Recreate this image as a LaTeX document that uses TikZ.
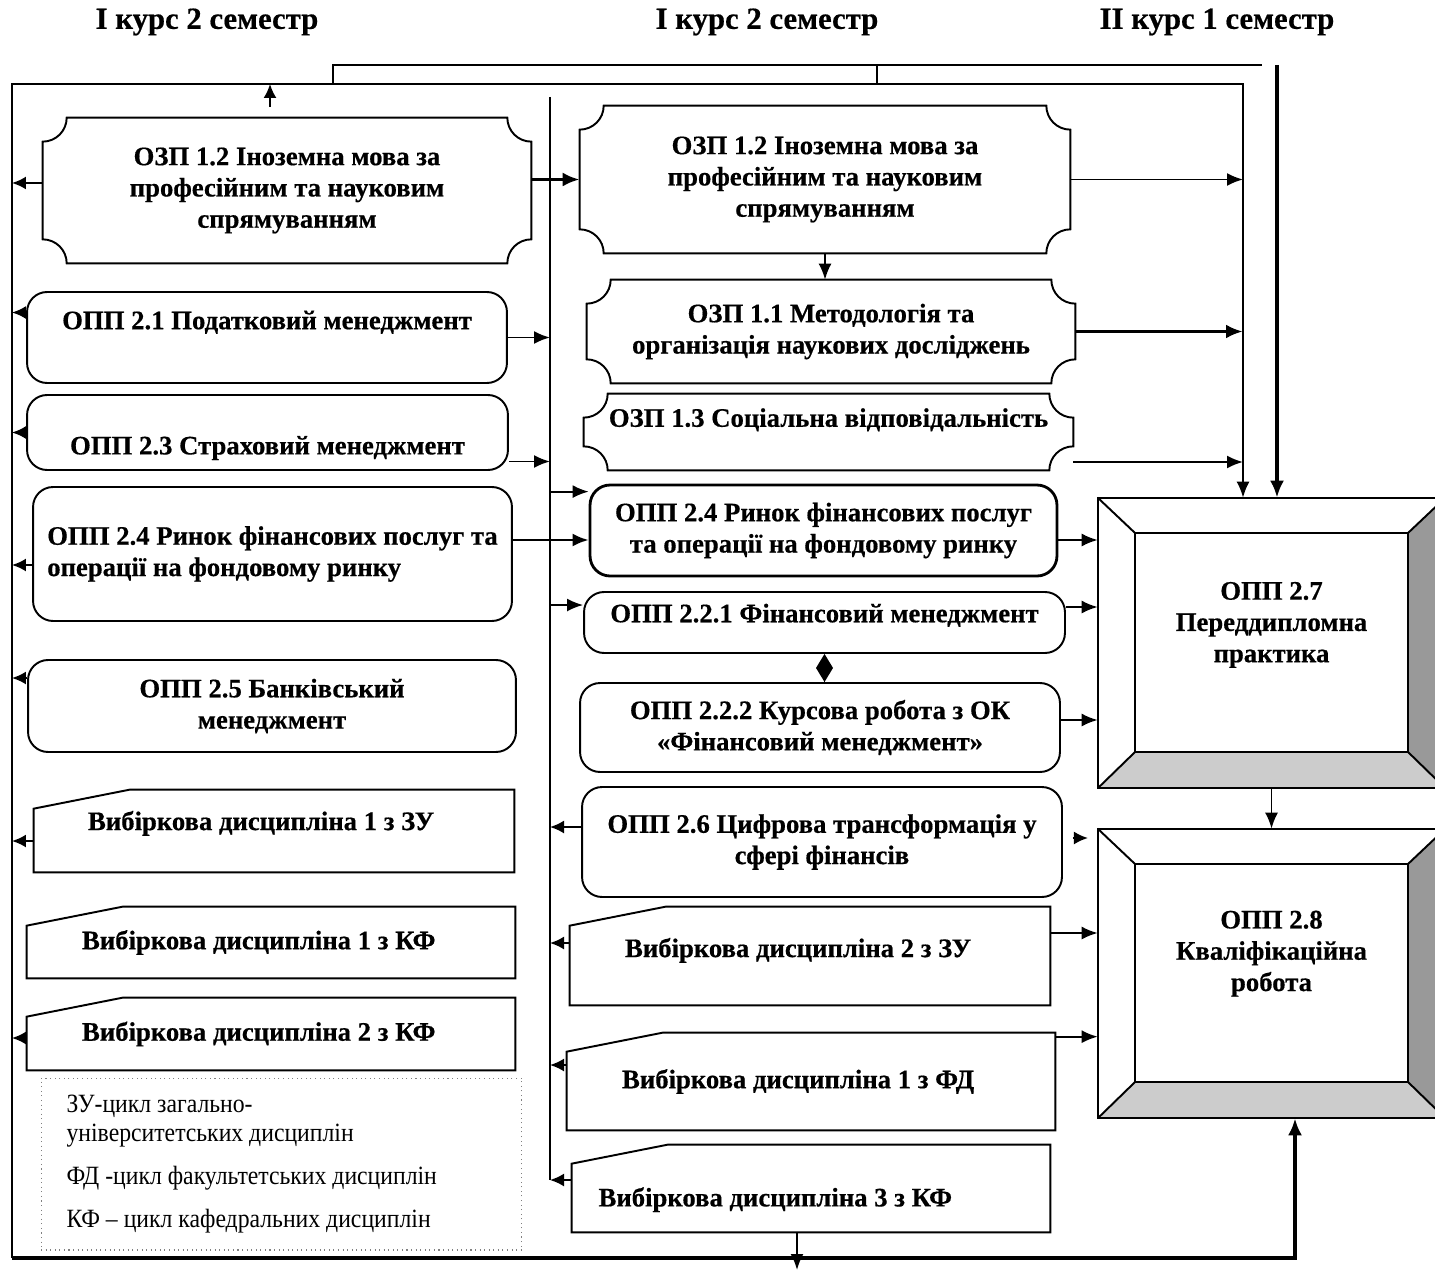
\documentclass[tikz,border=0pt]{standalone}
\usepackage{fontspec}
\setmainfont{Liberation Serif}[BoldFeatures={FakeBold=0.5}]
\newfontfamily\legendfont{Liberation Serif}[FakeStretch=0.9]
\usetikzlibrary{arrows.meta}

% outline of the plaque boxes (concave corners)
\newcommand\plaqueframe[1]{%
  \draw[boxline] ([xshift=0.48cm]#1.north west) -- ([xshift=-0.48cm]#1.north east)
    arc[start angle=180, end angle=270, radius=0.48cm] -- ([yshift=0.48cm]#1.south east)
    arc[start angle=90, end angle=180, radius=0.48cm] -- ([xshift=0.48cm]#1.south west)
    arc[start angle=0, end angle=90, radius=0.48cm] -- ([yshift=-0.48cm]#1.north west)
    arc[start angle=270, end angle=360, radius=0.48cm] -- cycle;}
% outline of the elective boxes (slanted top left corner)
\newcommand\electframe[1]{%
  \draw[boxline] ([yshift=-0.38cm]#1.north west) -- ([xshift=1.92cm]#1.north west)
    -- (#1.north east) -- (#1.south east) -- (#1.south west) -- cycle;}
% bevelled frame of the practice and thesis boxes
\newcommand\bevelframe[1]{%
  \fill[gray!40] (#1.south west) -- (#1.south east) -- ([shift={(-0.74cm,0.72cm)}]#1.south east)
    -- ([shift={(0.74cm,0.72cm)}]#1.south west) -- cycle;
  \fill[gray!80] (#1.north east) -- (#1.south east) -- ([shift={(-0.74cm,0.72cm)}]#1.south east)
    -- ([shift={(-0.74cm,-0.7cm)}]#1.north east) -- cycle;
  \draw[boxline] (#1.north west) rectangle (#1.south east);
  \draw[boxline] ([shift={(0.74cm,-0.7cm)}]#1.north west) rectangle ([shift={(-0.74cm,0.72cm)}]#1.south east);
  \draw[boxline] (#1.north west) -- ([shift={(0.74cm,-0.7cm)}]#1.north west);
  \draw[boxline] (#1.north east) -- ([shift={(-0.74cm,-0.7cm)}]#1.north east);
  \draw[boxline] (#1.south west) -- ([shift={(0.74cm,0.72cm)}]#1.south west);
  \draw[boxline] (#1.south east) -- ([shift={(-0.74cm,0.72cm)}]#1.south east);}

\begin{document}
\begin{tikzpicture}[x=0.02cm, y=0.02cm]
    % Basic styles
    \tikzset{
        boxtext/.style={rectangle, align=center, inner sep=0pt,
            font=\bfseries\fontsize{15.2}{17.8}\selectfont},
        roundbox/.style={boxtext, draw, line width=1.1pt, rounded corners=0.4cm},
        boxline/.style={line width=1.1pt},
        head/.style={font=\bfseries\fontsize{17.5}{21}\selectfont},
        conn/.style={line width=1.1pt},
        arr/.style={conn, -{Latex[length=0.32cm, width=0.26cm]}},
        tip/.style={conn, -{Latex[length=0.28cm, width=0.26cm]}},
        bigarr/.style={line width=2.2pt, -{Latex[length=0.34cm, width=0.28cm]}}
    }
    \useasboundingbox (0,0) rectangle (1435,-1273);
    \clip (0,0) rectangle (1435,-1273);

    % Semester headings
    \node[head] (semA) at (207,-22) {І курс 2 семестр};
    \node[head] (semB) at (767,-22) {І курс 2 семестр};
    \node[head] (semC) at (1217,-22) {ІІ курс 1 семестр};

    % Frame points
    \coordinate (ftl) at (12,-84);
    \coordinate (ftr) at (1243,-84);
    \coordinate (fbl) at (12,-1258);
    \coordinate (fbr) at (1295,-1258);
    \coordinate (utl) at (333,-65);
    \coordinate (umid) at (877,-65);
    \coordinate (utr) at (1262,-65);
    \coordinate (tk) at (1277,-65);
    \coordinate (mtop) at (550,-97);
    \coordinate (mbot) at (550,-1180);
    \coordinate (upstart) at (270,-107);
    \coordinate (downend) at (797,-1270);

    % Left column (first semester)
    \node[boxtext, minimum width=9.76cm, minimum height=2.9cm] (ozpL) at (287,-190.5)
        {ОЗП 1.2 Іноземна мова за\\професійним та науковим\\спрямуванням};
    \node[roundbox, minimum width=9.6cm, minimum height=1.82cm, text depth=0.7cm] (oppTax) at (267,-337.5)
        {ОПП 2.1 Податковий менеджмент};
    \node[roundbox, minimum width=9.62cm, minimum height=1.5cm, text height=0.99cm] (oppIns) at (267.5,-432.5)
        {ОПП 2.3 Страховий менеджмент};
    \node[roundbox, align=left, minimum width=9.58cm, minimum height=2.68cm] (oppMarketL) at (272.5,-554)
        {ОПП 2.4 Ринок фінансових послуг та\\операції на фондовому ринку};
    \node[roundbox, minimum width=9.76cm, minimum height=1.84cm] (oppBank) at (272,-706)
        {ОПП 2.5 Банківський\\менеджмент};
    \node[boxtext, align=flush left, text width=7.44cm, minimum width=9.6cm, minimum height=1.64cm, text depth=0.42cm] (electZuA) at (274,-831)
        {Вибіркова дисципліна 1 з ЗУ};
    \node[boxtext, align=flush left, text width=7.56cm, minimum width=9.76cm, minimum height=1.42cm] (electKfA) at (271,-942.5)
        {Вибіркова дисципліна 1 з КФ};
    \node[boxtext, align=flush left, text width=7.56cm, minimum width=9.76cm, minimum height=1.44cm] (electKfB) at (271,-1034)
        {Вибіркова дисципліна 2 з КФ};
    \node[draw=gray, dotted, line width=0.6pt, minimum width=9.62cm, minimum height=3.44cm,
          text width=8.6cm, align=flush left, inner sep=0pt, font=\legendfont\fontsize{15}{16.5}\selectfont] (legend) at (281.5,-1164)
        {ЗУ-цикл загально-\\університетських дисциплін\\[8pt]ФД -цикл факультетських дисциплін\\[8pt]КФ – цикл кафедральних дисциплін};

    % Middle column (second semester)
    \node[boxtext, minimum width=9.8cm, minimum height=2.94cm] (ozpLang) at (825,-179.5)
        {ОЗП 1.2 Іноземна мова за\\професійним та науковим\\спрямуванням};
    \node[boxtext, minimum width=9.76cm, minimum height=2.06cm] (ozpMethod) at (831,-331.5)
        {ОЗП 1.1 Методологія та\\організація наукових досліджень};
    \node[boxtext, minimum width=9.78cm, minimum height=1.52cm, text depth=0.58cm] (ozpSocial) at (828.5,-432)
        {ОЗП 1.3 Соціальна відповідальність};
    \node[roundbox, line width=1.6pt, minimum width=9.34cm, minimum height=1.82cm] (oppMarket) at (823.5,-530.5)
        {ОПП 2.4 Ринок фінансових послуг\\та операції на фондовому ринку};
    \node[roundbox, minimum width=9.62cm, minimum height=1.22cm, text depth=0.38cm] (oppFin) at (824.5,-622.5)
        {ОПП 2.2.1 Фінансовий менеджмент};
    \node[roundbox, minimum width=9.6cm, minimum height=1.78cm] (oppCourse) at (820,-727.5)
        {ОПП 2.2.2 Курсова робота з ОК\\«Фінансовий менеджмент»};
    \node[roundbox, minimum width=9.6cm, minimum height=2.2cm] (oppDigital) at (822,-842)
        {ОПП 2.6 Цифрова трансформація у\\сфері фінансів};
    \node[boxtext, align=flush left, text width=7.4cm, minimum width=9.6cm, minimum height=1.96cm, text depth=0.34cm] (electZuB) at (810,-956)
        {Вибіркова дисципліна 2 з ЗУ};
    \node[boxtext, align=flush left, text width=7.56cm, minimum width=9.76cm, minimum height=1.94cm] (electFd) at (811,-1081.5)
        {Вибіркова дисципліна 1 з ФД};
    \node[boxtext, align=flush left, text width=8.5cm, minimum width=9.56cm, minimum height=1.74cm, text height=0.83cm] (electKfC) at (811,-1188.5)
        {Вибіркова дисципліна 3 з КФ};

    % Right column (third semester)
    \node[boxtext, minimum width=6.94cm, minimum height=5.8cm] (oppPractice) at (1271.5,-643)
        {ОПП 2.7\\Переддипломна\\практика\\[6pt]\mbox{}};
    \node[boxtext, minimum width=6.94cm, minimum height=5.78cm] (oppThesis) at (1271.5,-973.5)
        {ОПП 2.8\\Кваліфікаційна\\робота\\[8pt]\mbox{}};

    % Box outlines
    \foreach \b in {ozpL, ozpLang, ozpMethod, ozpSocial} {\plaqueframe{\b}}
    \foreach \b in {electZuA, electKfA, electKfB, electZuB, electFd, electKfC} {\electframe{\b}}
    \bevelframe{oppPractice}
    \bevelframe{oppThesis}

    % Frame and upper lines
    \draw[arr] (fbl) -- (ftl) -- (ftr) -- (ftr |- oppPractice.north);
    \draw[conn] (utl |- ftl) -- (utl) -- (utr);
    \draw[conn] (umid) -- (umid |- ftl);
    \draw[bigarr] (tk) -- (tk |- oppPractice.north);
    \draw[bigarr] (fbl) -- (fbr) -- (fbr |- oppThesis.south);
    \draw[conn] (mtop) -- (mbot);
    \draw[tip] (upstart) -- (upstart |- ftl);

    % Left column to the frame
    \draw[tip] ([yshift=0.15cm]ozpL.west) -- ([yshift=0.15cm]ozpL.west -| ftl);
    \draw[tip] ([yshift=0.5cm]oppTax.west) -- ([yshift=0.5cm]oppTax.west -| ftl);
    \draw[tip] (oppIns.west) -- (oppIns.west -| ftl);
    \draw[tip] ([yshift=-0.22cm]oppMarketL.west) -- ([yshift=-0.22cm]oppMarketL.west -| ftl);
    \draw[tip] ([yshift=0.56cm]oppBank.west) -- ([yshift=0.56cm]oppBank.west -| ftl);
    \draw[tip] ([yshift=-0.2cm]electZuA.west) -- ([yshift=-0.2cm]electZuA.west -| ftl);
    \draw[tip] ([yshift=-0.08cm]electKfB.west) -- ([yshift=-0.08cm]electKfB.west -| ftl);

    % Left column to the middle
    \draw[bigarr] (ozpLang.west -| ozpL.east) -- (ozpLang.west);
    \draw[arr] (oppTax.east) -- (oppTax.east -| mtop);
    \draw[arr] ([yshift=-0.58cm]oppIns.east) -- ([yshift=-0.58cm]oppIns.east -| mtop);
    \draw[arr, line width=1.5pt] ([yshift=-0.19cm]oppMarket.west -| oppMarketL.east) -- ([yshift=-0.19cm]oppMarket.west);
    \draw[arr] ([yshift=-0.16cm]oppMarket.north west -| mtop) -- ([yshift=-0.16cm]oppMarket.north west);
    \draw[arr] ([yshift=0.35cm]oppFin.west -| mtop) -- ([yshift=0.35cm]oppFin.west);

    % Middle column back to the middle line
    \draw[tip] ([yshift=0.3cm]oppDigital.west) -- ([yshift=0.3cm]oppDigital.west -| mtop);
    \draw[tip] ([yshift=0.26cm]electZuB.west) -- ([yshift=0.26cm]electZuB.west -| mtop);
    \draw[tip] ([yshift=0.33cm]electFd.west) -- ([yshift=0.33cm]electFd.west -| mtop);
    \draw[tip] ([yshift=0.17cm]electKfC.west) -- (mbot);

    % Inside the middle column
    \draw[arr] (ozpLang.south) -- (ozpLang.south |- ozpMethod.north);
    \draw[conn, {Diamond[length=0.56cm, width=0.34cm]}-] (oppFin.south) -- (oppFin.south |- oppCourse.north);
    \draw[arr] ([xshift=-0.28cm]electKfC.south) -- (downend);

    % Middle column to the right
    \draw[arr] (ozpLang.east) -- (ozpLang.east -| ftr);
    \draw[bigarr] (ozpMethod.east) -- (ozpMethod.east -| ftr);
    \draw[arr] ([yshift=-0.6cm]ozpSocial.east) -- ([yshift=-0.6cm]ozpSocial.east -| ftr);
    \draw[arr] ([yshift=-0.19cm]oppMarket.east) -- ([yshift=-0.19cm]oppMarket.east -| oppPractice.west);
    \draw[arr] ([yshift=0.31cm]oppFin.east) -- ([yshift=0.31cm]oppFin.east -| oppPractice.west);
    \draw[arr] ([yshift=0.15cm]oppCourse.east) -- ([yshift=0.15cm]oppCourse.east -| oppPractice.west);
    \draw[tip] ([shift={(0.2cm,0.08cm)}]oppDigital.east) -- ([shift={(0.5cm,0.08cm)}]oppDigital.east);
    \draw[arr] ([yshift=0.46cm]electZuB.east) -- ([yshift=0.46cm]electZuB.east -| oppThesis.west);
    \draw[arr] ([yshift=-0.08cm]electFd.north east) -- ([yshift=-0.08cm]electFd.north east -| oppThesis.west);
    \draw[arr] (oppPractice.south) -- (oppThesis.north);
\end{tikzpicture}
\end{document}
